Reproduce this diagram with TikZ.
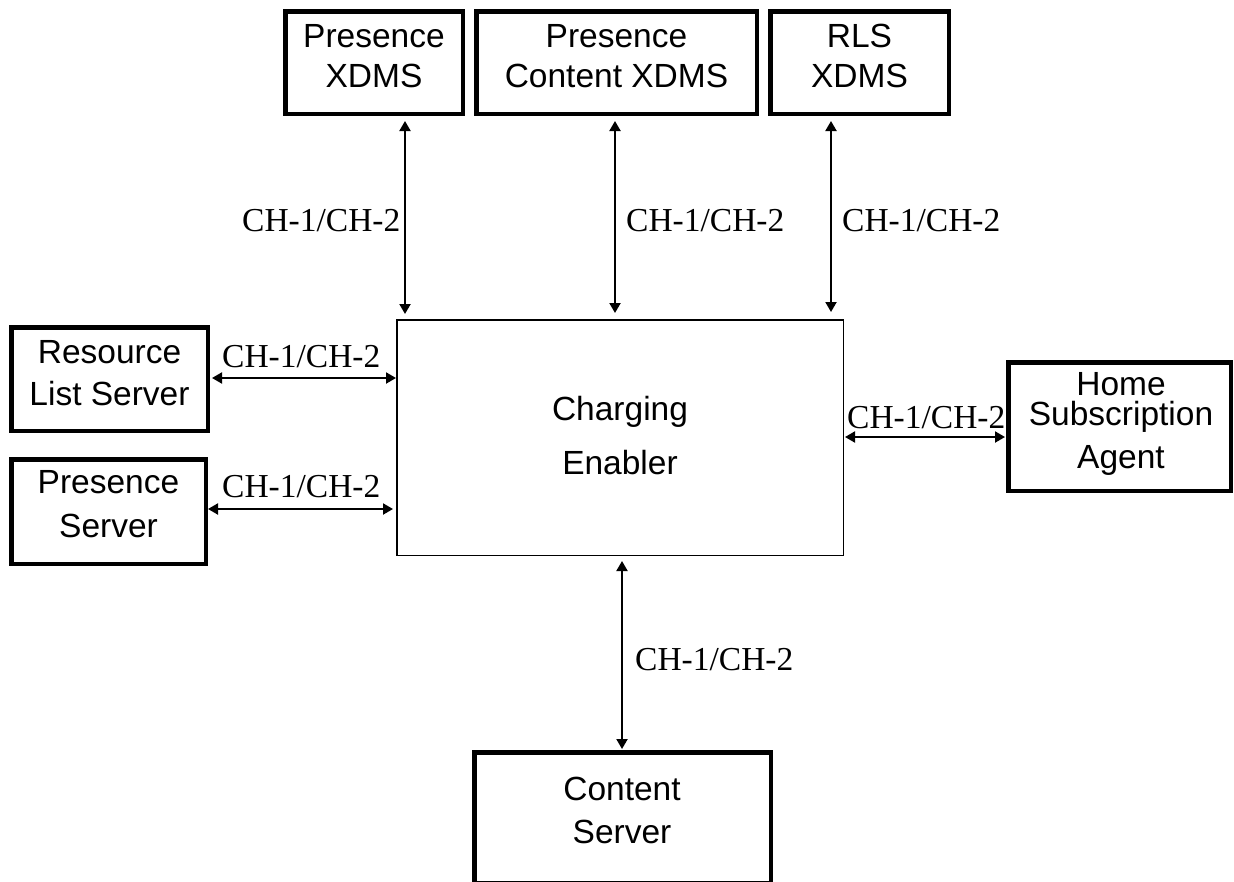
\documentclass[tikz,border=0pt]{standalone}
\usepackage{fontspec}
\setmainfont{Liberation Sans}
\newfontfamily\labfont{Liberation Serif}
\usetikzlibrary{arrows.meta}
\tikzset{
  box/.style={draw, line width=4.5pt, inner sep=0pt, fill=white},
  cebox/.style={draw, line width=1.5pt, inner sep=0pt},
  txt/.style={anchor=base, inner sep=0pt, font=\fontsize{33.5}{40}\selectfont},
  lab/.style={anchor=base west, inner sep=0pt, font=\labfont\fontsize{33.5}{40}\selectfont},
  arr/.style={line width=2pt, {Triangle[length=10pt,width=11pt]}-{Triangle[length=10pt,width=11pt]}},
}
\begin{document}
\begin{tikzpicture}[x=1pt,y=-1pt]
\useasboundingbox (0,0) rectangle (1234,881);
% boxes
\node[box, minimum width=177.5pt, minimum height=102.5pt] (px) at (374,62.5) {};
\node[box, minimum width=280.5pt, minimum height=102.5pt] (pcx) at (616.5,62.5) {};
\node[box, minimum width=178.5pt, minimum height=102.5pt] (rlsx) at (859.5,62.5) {};
\node[box, minimum width=196.5pt, minimum height=103.5pt] (rlss) at (109.5,379) {};
\node[box, minimum width=194.5pt, minimum height=104.5pt] (ps) at (108.5,511.5) {};
\node[box, minimum width=222.5pt, minimum height=128.5pt] (hsa) at (1119.5,426.5) {};
\node[box, minimum width=296.5pt, minimum height=130.5pt] (cs) at (622.5,817.5) {};
\node[cebox, minimum width=446.5pt, minimum height=235.5pt] (ce) at (620,437.5) {};
% box texts
\node[txt] (pxa) at (374,47) {Presence};
\node[txt] (pxb) at (374,87) {XDMS};
\node[txt] (pcxa) at (616.5,47) {Presence};
\node[txt] (pcxb) at (616.5,87) {Content XDMS};
\node[txt] (rlsxa) at (859.5,47) {RLS};
\node[txt] (rlsxb) at (859.5,87) {XDMS};
\node[txt] (rlssa) at (109.5,363) {Resource};
\node[txt] (rlssb) at (109.5,405) {List Server};
\node[txt] (psa) at (108.5,493) {Presence};
\node[txt] (psb) at (108.5,537) {Server};
\node[txt] (cea) at (620,420) {Charging};
\node[txt] (ceb) at (620,474) {Enabler};
\node[txt] (hsaa) at (1121,395) {Home};
\node[txt] (hsab) at (1121,425) {Subscription};
\node[txt] (hsac) at (1121,468) {Agent};
\node[txt] (csa) at (622,800) {Content};
\node[txt] (csb) at (622,843) {Server};
% connector positions
\coordinate (x1) at (405,0);
\coordinate (x2) at (615,0);
\coordinate (x3) at (831,0);
\coordinate (x7) at (622,0);
\coordinate (y4) at (0,378);
\coordinate (y5) at (0,509);
\coordinate (y6) at (0,437);
% connectors
\draw[arr, shorten <=5pt, shorten >=5pt] (px.south -| x1) -- (ce.north -| x1);
\draw[arr, shorten <=5pt, shorten >=6pt] (pcx.south -| x2) -- (ce.north -| x2);
\draw[arr, shorten <=5pt, shorten >=7pt] (rlsx.south -| x3) -- (ce.north -| x3);
\draw[arr, shorten <=2pt] (rlss.east |- y4) -- (ce.west |- y4);
\draw[arr, shorten >=3pt] (ps.east |- y5) -- (ce.west |- y5);
\draw[arr, shorten <=1pt, shorten >=1pt] (ce.east |- y6) -- (hsa.west |- y6);
\draw[arr, shorten <=5pt, shorten >=1pt] (ce.south -| x7) -- (cs.north -| x7);
% labels
\node[lab] (l1) at (242,231) {CH-1/CH-2};
\node[lab] (l2) at (626,231) {CH-1/CH-2};
\node[lab] (l3) at (842,231) {CH-1/CH-2};
\node[lab] (l4) at (222,367) {CH-1/CH-2};
\node[lab] (l5) at (222,497) {CH-1/CH-2};
\node[lab] (l6) at (847,428) {CH-1/CH-2};
\node[lab] (l7) at (635,670) {CH-1/CH-2};
\end{tikzpicture}
\end{document}
